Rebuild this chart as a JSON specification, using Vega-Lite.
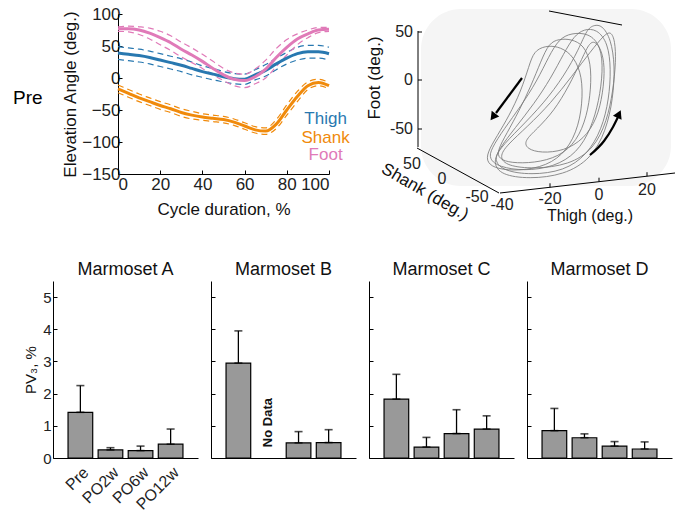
{
  "$schema": "https://vega.github.io/schema/vega-lite/v6.json",
  "background": "white",
  "padding": {"left": 13, "top": 5, "right": 5, "bottom": 5},
  "config": {
    "font": "Liberation Sans",
    "view": {"stroke": null},
    "axis": {"domainColor": "black", "tickColor": "black", "labelColor": "#222", "titleColor": "#111", "labelFontSize": 15, "titleFontSize": 15, "titleFontWeight": "normal", "grid": false, "tickSize": -4, "labelPadding": 8, "labelOverlap": false},
    "title": {"fontSize": 18, "fontWeight": "normal", "color": "#111", "offset": 2}
  },
  "datasets": {
    "curves": [
      {"p":"Thigh","x":0,"m":39,"lo":29,"hi":49},{"p":"Thigh","x":5,"m":37,"lo":27,"hi":47},{"p":"Thigh","x":10,"m":35,"lo":25,"hi":45},{"p":"Thigh","x":15,"m":32,"lo":22,"hi":42},{"p":"Thigh","x":20,"m":28,"lo":18,"hi":38},{"p":"Thigh","x":25,"m":24,"lo":14,"hi":34},{"p":"Thigh","x":30,"m":20,"lo":10,"hi":30},{"p":"Thigh","x":35,"m":15,"lo":5,"hi":25},{"p":"Thigh","x":40,"m":10,"lo":1,"hi":19},{"p":"Thigh","x":45,"m":6,"lo":-3,"hi":15},{"p":"Thigh","x":50,"m":2,"lo":-6,"hi":10},{"p":"Thigh","x":55,"m":-1,"lo":-9,"hi":7},{"p":"Thigh","x":60,"m":-2,"lo":-10,"hi":6},{"p":"Thigh","x":65,"m":5,"lo":-3,"hi":13},{"p":"Thigh","x":70,"m":12,"lo":3,"hi":21},{"p":"Thigh","x":75,"m":22,"lo":13,"hi":31},{"p":"Thigh","x":80,"m":31,"lo":22,"hi":40},{"p":"Thigh","x":85,"m":38,"lo":28,"hi":48},{"p":"Thigh","x":90,"m":41,"lo":31,"hi":51},{"p":"Thigh","x":95,"m":41,"lo":31,"hi":51},{"p":"Thigh","x":100,"m":38,"lo":28,"hi":48},
      {"p":"Shank","x":0,"m":-17,"lo":-23,"hi":-11},{"p":"Shank","x":5,"m":-24,"lo":-30,"hi":-18},{"p":"Shank","x":10,"m":-31,"lo":-37,"hi":-25},{"p":"Shank","x":15,"m":-37,"lo":-43,"hi":-31},{"p":"Shank","x":20,"m":-43,"lo":-49,"hi":-37},{"p":"Shank","x":25,"m":-48,"lo":-54,"hi":-42},{"p":"Shank","x":30,"m":-54,"lo":-60,"hi":-48},{"p":"Shank","x":35,"m":-58,"lo":-64,"hi":-52},{"p":"Shank","x":40,"m":-61,"lo":-66,"hi":-56},{"p":"Shank","x":45,"m":-63,"lo":-68,"hi":-58},{"p":"Shank","x":50,"m":-65,"lo":-70,"hi":-60},{"p":"Shank","x":55,"m":-69,"lo":-74,"hi":-64},{"p":"Shank","x":60,"m":-75,"lo":-80,"hi":-70},{"p":"Shank","x":65,"m":-81,"lo":-86,"hi":-76},{"p":"Shank","x":70,"m":-83,"lo":-88,"hi":-78},{"p":"Shank","x":75,"m":-72,"lo":-79,"hi":-65},{"p":"Shank","x":80,"m":-50,"lo":-58,"hi":-42},{"p":"Shank","x":85,"m":-29,"lo":-37,"hi":-21},{"p":"Shank","x":90,"m":-12,"lo":-18,"hi":-6},{"p":"Shank","x":95,"m":-7,"lo":-12,"hi":-2},{"p":"Shank","x":100,"m":-12,"lo":-17,"hi":-7},
      {"p":"Foot","x":0,"m":77,"lo":73,"hi":80},{"p":"Foot","x":5,"m":77,"lo":72,"hi":81},{"p":"Foot","x":10,"m":75,"lo":68,"hi":80},{"p":"Foot","x":15,"m":70,"lo":61,"hi":78},{"p":"Foot","x":20,"m":63,"lo":52,"hi":73},{"p":"Foot","x":25,"m":55,"lo":43,"hi":66},{"p":"Foot","x":30,"m":45,"lo":33,"hi":56},{"p":"Foot","x":35,"m":36,"lo":24,"hi":47},{"p":"Foot","x":40,"m":26,"lo":15,"hi":37},{"p":"Foot","x":45,"m":15,"lo":5,"hi":26},{"p":"Foot","x":50,"m":5,"lo":-4,"hi":15},{"p":"Foot","x":55,"m":-2,"lo":-12,"hi":8},{"p":"Foot","x":60,"m":-4,"lo":-15,"hi":6},{"p":"Foot","x":65,"m":2,"lo":-9,"hi":14},{"p":"Foot","x":70,"m":14,"lo":0,"hi":28},{"p":"Foot","x":75,"m":32,"lo":18,"hi":46},{"p":"Foot","x":80,"m":48,"lo":36,"hi":60},{"p":"Foot","x":85,"m":61,"lo":52,"hi":69},{"p":"Foot","x":90,"m":69,"lo":63,"hi":75},{"p":"Foot","x":95,"m":75,"lo":71,"hi":79},{"p":"Foot","x":100,"m":76,"lo":73,"hi":79}
    ],
    "loops": [
      {"c":1,"i":0,"u":200,"v":182},{"c":1,"i":1,"u":190,"v":165},{"c":1,"i":2,"u":178,"v":140},{"c":1,"i":3,"u":162,"v":115},{"c":1,"i":4,"u":145,"v":92},{"c":1,"i":5,"u":132,"v":72},{"c":1,"i":6,"u":130,"v":62},{"c":1,"i":7,"u":140,"v":54},{"c":1,"i":8,"u":165,"v":50},{"c":1,"i":9,"u":195,"v":54},{"c":1,"i":10,"u":218,"v":68},{"c":1,"i":11,"u":232,"v":92},{"c":1,"i":12,"u":240,"v":120},{"c":1,"i":13,"u":244,"v":150},{"c":1,"i":14,"u":242,"v":175},{"c":1,"i":15,"u":230,"v":188},{"c":1,"i":16,"u":212,"v":188},
      {"c":2,"i":0,"u":215,"v":185},{"c":2,"i":1,"u":205,"v":168},{"c":2,"i":2,"u":192,"v":143},{"c":2,"i":3,"u":175,"v":117},{"c":2,"i":4,"u":156,"v":93},{"c":2,"i":5,"u":140,"v":72},{"c":2,"i":6,"u":135,"v":60},{"c":2,"i":7,"u":145,"v":50},{"c":2,"i":8,"u":172,"v":46},{"c":2,"i":9,"u":205,"v":50},{"c":2,"i":10,"u":228,"v":66},{"c":2,"i":11,"u":243,"v":92},{"c":2,"i":12,"u":250,"v":122},{"c":2,"i":13,"u":252,"v":152},{"c":2,"i":14,"u":249,"v":178},{"c":2,"i":15,"u":238,"v":192},{"c":2,"i":16,"u":225,"v":192},
      {"c":3,"i":0,"u":190,"v":178},{"c":3,"i":1,"u":182,"v":160},{"c":3,"i":2,"u":172,"v":135},{"c":3,"i":3,"u":160,"v":110},{"c":3,"i":4,"u":148,"v":88},{"c":3,"i":5,"u":138,"v":70},{"c":3,"i":6,"u":140,"v":62},{"c":3,"i":7,"u":152,"v":58},{"c":3,"i":8,"u":175,"v":58},{"c":3,"i":9,"u":200,"v":64},{"c":3,"i":10,"u":218,"v":80},{"c":3,"i":11,"u":228,"v":105},{"c":3,"i":12,"u":232,"v":132},{"c":3,"i":13,"u":232,"v":158},{"c":3,"i":14,"u":225,"v":176},{"c":3,"i":15,"u":212,"v":182},{"c":3,"i":16,"u":200,"v":182},
      {"c":4,"i":0,"u":228,"v":192},{"c":4,"i":1,"u":220,"v":172},{"c":4,"i":2,"u":205,"v":145},{"c":4,"i":3,"u":185,"v":118},{"c":4,"i":4,"u":160,"v":92},{"c":4,"i":5,"u":140,"v":72},{"c":4,"i":6,"u":134,"v":58},{"c":4,"i":7,"u":142,"v":46},{"c":4,"i":8,"u":170,"v":42},{"c":4,"i":9,"u":205,"v":46},{"c":4,"i":10,"u":232,"v":62},{"c":4,"i":11,"u":247,"v":90},{"c":4,"i":12,"u":254,"v":122},{"c":4,"i":13,"u":256,"v":155},{"c":4,"i":14,"u":252,"v":182},{"c":4,"i":15,"u":243,"v":196},{"c":4,"i":16,"u":235,"v":196},
      {"c":5,"i":0,"u":175,"v":170},{"c":5,"i":1,"u":170,"v":155},{"c":5,"i":2,"u":162,"v":130},{"c":5,"i":3,"u":150,"v":105},{"c":5,"i":4,"u":138,"v":85},{"c":5,"i":5,"u":128,"v":68},{"c":5,"i":6,"u":128,"v":58},{"c":5,"i":7,"u":138,"v":52},{"c":5,"i":8,"u":160,"v":50},{"c":5,"i":9,"u":188,"v":55},{"c":5,"i":10,"u":208,"v":70},{"c":5,"i":11,"u":220,"v":95},{"c":5,"i":12,"u":224,"v":125},{"c":5,"i":13,"u":222,"v":150},{"c":5,"i":14,"u":212,"v":168},{"c":5,"i":15,"u":198,"v":175},{"c":5,"i":16,"u":186,"v":175},
      {"c":6,"i":0,"u":245,"v":186},{"c":6,"i":1,"u":232,"v":170},{"c":6,"i":2,"u":213,"v":145},{"c":6,"i":3,"u":192,"v":118},{"c":6,"i":4,"u":168,"v":94},{"c":6,"i":5,"u":148,"v":76},{"c":6,"i":6,"u":140,"v":64},{"c":6,"i":7,"u":148,"v":55},{"c":6,"i":8,"u":175,"v":52},{"c":6,"i":9,"u":210,"v":56},{"c":6,"i":10,"u":235,"v":72},{"c":6,"i":11,"u":248,"v":100},{"c":6,"i":12,"u":254,"v":130},{"c":6,"i":13,"u":257,"v":160},{"c":6,"i":14,"u":256,"v":180},{"c":6,"i":15,"u":252,"v":190},
      {"c":7,"i":0,"u":230,"v":178},{"c":7,"i":1,"u":222,"v":160},{"c":7,"i":2,"u":210,"v":135},{"c":7,"i":3,"u":195,"v":110},{"c":7,"i":4,"u":178,"v":92},{"c":7,"i":5,"u":165,"v":80},{"c":7,"i":6,"u":168,"v":72},{"c":7,"i":7,"u":182,"v":68},{"c":7,"i":8,"u":205,"v":70},{"c":7,"i":9,"u":225,"v":82},{"c":7,"i":10,"u":238,"v":102},{"c":7,"i":11,"u":244,"v":128},{"c":7,"i":12,"u":246,"v":155},{"c":7,"i":13,"u":242,"v":172},{"c":7,"i":14,"u":236,"v":180}
    ],
    "axes3": [
      {"u":59,"v":190,"u2":59,"v2":74},
      {"u":58,"v":73,"u2":140,"v2":28},
      {"u":141,"v":28,"u2":316,"v2":48},
      {"u":190,"v":210,"u2":263,"v2":196},
      {"u":59,"v":189,"u2":63,"v2":189},
      {"u":59,"v":141,"u2":63,"v2":141},
      {"u":59,"v":92,"u2":63,"v2":92},
      {"u":191,"v":33.7,"u2":191,"v2":37.7},
      {"u":240,"v":39.3,"u2":240,"v2":43.3},
      {"u":288,"v":44.8,"u2":288,"v2":48.8}
    ],
    "labels3": [
      {"k":"r","t":"50","u":54,"v":189},{"k":"r","t":"0","u":54,"v":141},{"k":"r","t":"-50","u":54,"v":92},
      {"k":"c","t":"50","u":53,"v":57},{"k":"c","t":"0","u":83,"v":42},{"k":"c","t":"-50","u":118,"v":24},
      {"k":"c","t":"-40","u":143,"v":16},{"k":"c","t":"-20","u":191,"v":22},{"k":"c","t":"0","u":240,"v":26},{"k":"c","t":"20","u":288,"v":31}
    ],
    "arrows": [
      {"a":"L","i":0,"u":163,"v":143},{"a":"L","i":1,"u":137,"v":108},
      {"a":"R","i":0,"u":231,"v":66},{"a":"R","i":1,"u":245,"v":80},{"a":"R","i":2,"u":254,"v":94},{"a":"R","i":3,"u":259,"v":104}
    ],
    "bars": [
      {"animal":"A","c":"Pre","v":1.42,"e":2.25},{"animal":"A","c":"PO2w","v":0.25,"e":0.32},{"animal":"A","c":"PO6w","v":0.23,"e":0.37},{"animal":"A","c":"PO12w","v":0.43,"e":0.9},
      {"animal":"B","c":"Pre","v":2.95,"e":3.95},{"animal":"B","c":"PO6w","v":0.47,"e":0.82},{"animal":"B","c":"PO12w","v":0.48,"e":0.88},
      {"animal":"C","c":"Pre","v":1.83,"e":2.6},{"animal":"C","c":"PO2w","v":0.34,"e":0.64},{"animal":"C","c":"PO6w","v":0.76,"e":1.5},{"animal":"C","c":"PO12w","v":0.9,"e":1.31},
      {"animal":"D","c":"Pre","v":0.85,"e":1.54},{"animal":"D","c":"PO2w","v":0.63,"e":0.75},{"animal":"D","c":"PO6w","v":0.37,"e":0.51},{"animal":"D","c":"PO12w","v":0.28,"e":0.5}
    ]
  },
  "spacing": 37,
  "vconcat": [
    {
      "spacing": 2,
      "hconcat": [
        {
          "width": 6,
          "height": 160,
          "data": {"values": [{"t": "Pre", "x": -40, "y": -31}]},
          "mark": {"type": "text", "align": "left", "baseline": "middle", "fontSize": 19, "color": "black"},
          "encoding": {
            "x": {"field": "x", "type": "quantitative", "scale": {"domain": [0, 6], "nice": false, "zero": false}, "axis": null},
            "y": {"field": "y", "type": "quantitative", "scale": {"domain": [-150, 100], "nice": false}, "axis": null},
            "text": {"field": "t"}
          }
        },
        {
          "width": 211,
          "height": 160,
          "data": {"name": "curves"},
          "transform": [{"fold": ["lo", "hi", "m"], "as": ["k", "val"]}],
          "encoding": {
            "x": {"field": "x", "type": "quantitative", "scale": {"domain": [0, 100], "nice": false}, "axis": {"values": [0, 20, 40, 60, 80, 100], "title": "Cycle duration, %", "labelFontSize": 17, "titleFontSize": 17, "titlePadding": 9, "labelPadding": 6, "labelOverlap": false}},
            "y": {"field": "val", "type": "quantitative", "scale": {"domain": [-150, 100], "nice": false}, "axis": {"values": [-150, -100, -50, 0, 50, 100], "title": "Elevation Angle (deg.)", "labelFontSize": 17, "titleFontSize": 17, "labelPadding": 2, "titlePadding": 2, "labelOverlap": false, "labelFlush": false}},
            "color": {"field": "p", "type": "nominal", "scale": {"domain": ["Thigh", "Shank", "Foot"], "range": ["#2878b0", "#f08a0b", "#e07ab8"]}, "legend": null}
          },
          "layer": [
            {
              "transform": [{"filter": "datum.k !== 'm'"}],
              "mark": {"type": "line", "strokeDash": [6, 4], "strokeWidth": 1.2, "interpolate": "monotone"},
              "encoding": {"detail": {"field": "k", "type": "nominal"}}
            },
            {
              "transform": [{"filter": "datum.k === 'm'"}],
              "mark": {"type": "line", "strokeWidth": 3, "interpolate": "monotone"}
            },
            {
              "data": {"values": [{"p": "Thigh", "x": 98.4, "val": -64}, {"p": "Shank", "x": 98.4, "val": -93}, {"p": "Foot", "x": 98.4, "val": -120}]},
              "transform": [],
              "mark": {"type": "text", "align": "center", "baseline": "middle", "fontSize": 17},
              "encoding": {"text": {"field": "p"}}
            }
          ]
        },
        {
          "width": 327,
          "height": 207,
          "encoding": {
            "x": {"field": "u", "type": "quantitative", "scale": {"domain": [-7, 320], "nice": false, "zero": false}, "axis": null},
            "y": {"field": "v", "type": "quantitative", "scale": {"domain": [0, 207], "nice": false, "zero": false}, "axis": null}
          },
          "layer": [
            {
              "data": {"values": [{"u": 62, "u2": 312, "v": 35, "v2": 212}]},
              "mark": {"type": "rect", "fill": "#f5f5f5", "cornerRadius": 40},
              "encoding": {"x2": {"field": "u2"}, "y2": {"field": "v2"}}
            },
            {
              "data": {"name": "loops"},
              "mark": {"type": "line", "interpolate": "basis-closed", "stroke": "#7a7a7a", "strokeWidth": 1, "strokeOpacity": 0.85},
              "encoding": {
                "detail": {"field": "c", "type": "nominal"},
                "order": {"field": "i", "type": "quantitative"}
              }
            },
            {
              "data": {"name": "axes3"},
              "mark": {"type": "rule", "color": "black", "strokeWidth": 1},
              "encoding": {"x2": {"field": "u2"}, "y2": {"field": "v2"}}
            },
            {
              "data": {"name": "labels3"},
              "transform": [{"filter": "datum.k === 'r'"}],
              "mark": {"type": "text", "align": "right", "baseline": "middle", "fontSize": 16, "color": "#222"},
              "encoding": {"text": {"field": "t"}}
            },
            {
              "data": {"name": "labels3"},
              "transform": [{"filter": "datum.k === 'c'"}],
              "mark": {"type": "text", "align": "center", "baseline": "middle", "fontSize": 16, "color": "#222"},
              "encoding": {"text": {"field": "t"}}
            },
            {
              "data": {"values": [{"t": "Foot (deg.)", "u": 16, "v": 143}]},
              "mark": {"type": "text", "align": "center", "baseline": "middle", "fontSize": 17, "angle": 270, "color": "#111"},
              "encoding": {"text": {"field": "t"}}
            },
            {
              "data": {"values": [{"t": "Shank (deg.)", "u": 66, "v": 29}]},
              "mark": {"type": "text", "align": "center", "baseline": "middle", "fontSize": 17, "angle": 30, "color": "#111"},
              "encoding": {"text": {"field": "t"}}
            },
            {
              "data": {"values": [{"t": "Thigh (deg.)", "u": 231, "v": 5}]},
              "mark": {"type": "text", "align": "center", "baseline": "middle", "fontSize": 16, "color": "#111"},
              "encoding": {"text": {"field": "t"}}
            },
            {
              "data": {"name": "arrows"},
              "mark": {"type": "line", "interpolate": "monotone", "stroke": "black", "strokeWidth": 2.2},
              "encoding": {
                "detail": {"field": "a", "type": "nominal"},
                "order": {"field": "i", "type": "quantitative"}
              }
            },
            {
              "data": {"values": [{"u": 134, "v": 104, "ang": 217}, {"u": 260, "v": 107, "ang": 25}]},
              "mark": {"type": "point", "shape": "triangle-up", "filled": true, "color": "black", "size": 90, "opacity": 1},
              "encoding": {"angle": {"field": "ang", "type": "quantitative", "scale": null}}
            }
          ]
        }
      ]
    },
    {
      "spacing": 12,
      "hconcat": [
        {
          "width": 145, "height": 177,
          "title": "Marmoset A",
          "data": {"name": "bars"},
          "transform": [{"filter": "datum.animal === 'A'"}],
          "encoding": {
            "x": {"field": "c", "type": "nominal", "sort": null, "scale": {"domain": ["Pre", "PO2w", "PO6w", "PO12w"], "paddingInner": 0.18, "paddingOuter": 0.5}, "axis": {"title": null, "labelAngle": -45, "ticks": false, "labelFontSize": 16, "labelPadding": 6}},
            "y": {"field": "v", "type": "quantitative", "scale": {"domain": [0, 5.5], "nice": false}, "axis": {"values": [0, 1, 2, 3, 4, 5], "title": "PV₃, %", "titleFontSize": 15, "labelOverlap": false, "labelFlush": false, "labelPadding": 6}}
          },
          "layer": [
            {"mark": {"type": "bar", "fill": "#999999", "stroke": "black", "strokeWidth": 1.2}},
            {"mark": {"type": "errorbar", "ticks": {"size": 8, "thickness": 1.6, "color": "black"}, "rule": {"strokeWidth": 1.3, "color": "black"}}, "encoding": {"y2": {"field": "e"}}}
          ]
        },
        {
          "width": 145, "height": 177,
          "title": "Marmoset B",
          "data": {"name": "bars"},
          "transform": [{"filter": "datum.animal === 'B'"}],
          "encoding": {
            "x": {"field": "c", "type": "nominal", "sort": null, "scale": {"domain": ["Pre", "PO2w", "PO6w", "PO12w"], "paddingInner": 0.18, "paddingOuter": 0.5}, "axis": {"title": null, "labels": false, "ticks": false}},
            "y": {"field": "v", "type": "quantitative", "scale": {"domain": [0, 5.5], "nice": false}, "axis": {"values": [0, 1, 2, 3, 4, 5], "title": null, "labels": false}}
          },
          "layer": [
            {"mark": {"type": "bar", "fill": "#999999", "stroke": "black", "strokeWidth": 1.2}},
            {"mark": {"type": "errorbar", "ticks": {"size": 8, "thickness": 1.6, "color": "black"}, "rule": {"strokeWidth": 1.3, "color": "black"}}, "encoding": {"y2": {"field": "e"}}},
            {"data": {"values": [{"c": "PO2w", "v": 1.1, "t": "No Data"}]}, "transform": [], "mark": {"type": "text", "angle": 270, "fontWeight": "bold", "fontSize": 13, "color": "#111", "align": "center", "baseline": "middle"}, "encoding": {"text": {"field": "t"}}}
          ]
        },
        {
          "width": 145, "height": 177,
          "title": "Marmoset C",
          "data": {"name": "bars"},
          "transform": [{"filter": "datum.animal === 'C'"}],
          "encoding": {
            "x": {"field": "c", "type": "nominal", "sort": null, "scale": {"domain": ["Pre", "PO2w", "PO6w", "PO12w"], "paddingInner": 0.18, "paddingOuter": 0.5}, "axis": {"title": null, "labels": false, "ticks": false}},
            "y": {"field": "v", "type": "quantitative", "scale": {"domain": [0, 5.5], "nice": false}, "axis": {"values": [0, 1, 2, 3, 4, 5], "title": null, "labels": false}}
          },
          "layer": [
            {"mark": {"type": "bar", "fill": "#999999", "stroke": "black", "strokeWidth": 1.2}},
            {"mark": {"type": "errorbar", "ticks": {"size": 8, "thickness": 1.6, "color": "black"}, "rule": {"strokeWidth": 1.3, "color": "black"}}, "encoding": {"y2": {"field": "e"}}}
          ]
        },
        {
          "width": 145, "height": 177,
          "title": "Marmoset D",
          "data": {"name": "bars"},
          "transform": [{"filter": "datum.animal === 'D'"}],
          "encoding": {
            "x": {"field": "c", "type": "nominal", "sort": null, "scale": {"domain": ["Pre", "PO2w", "PO6w", "PO12w"], "paddingInner": 0.18, "paddingOuter": 0.5}, "axis": {"title": null, "labels": false, "ticks": false}},
            "y": {"field": "v", "type": "quantitative", "scale": {"domain": [0, 5.5], "nice": false}, "axis": {"values": [0, 1, 2, 3, 4, 5], "title": null, "labels": false}}
          },
          "layer": [
            {"mark": {"type": "bar", "fill": "#999999", "stroke": "black", "strokeWidth": 1.2}},
            {"mark": {"type": "errorbar", "ticks": {"size": 8, "thickness": 1.6, "color": "black"}, "rule": {"strokeWidth": 1.3, "color": "black"}}, "encoding": {"y2": {"field": "e"}}}
          ]
        }
      ]
    }
  ]
}
